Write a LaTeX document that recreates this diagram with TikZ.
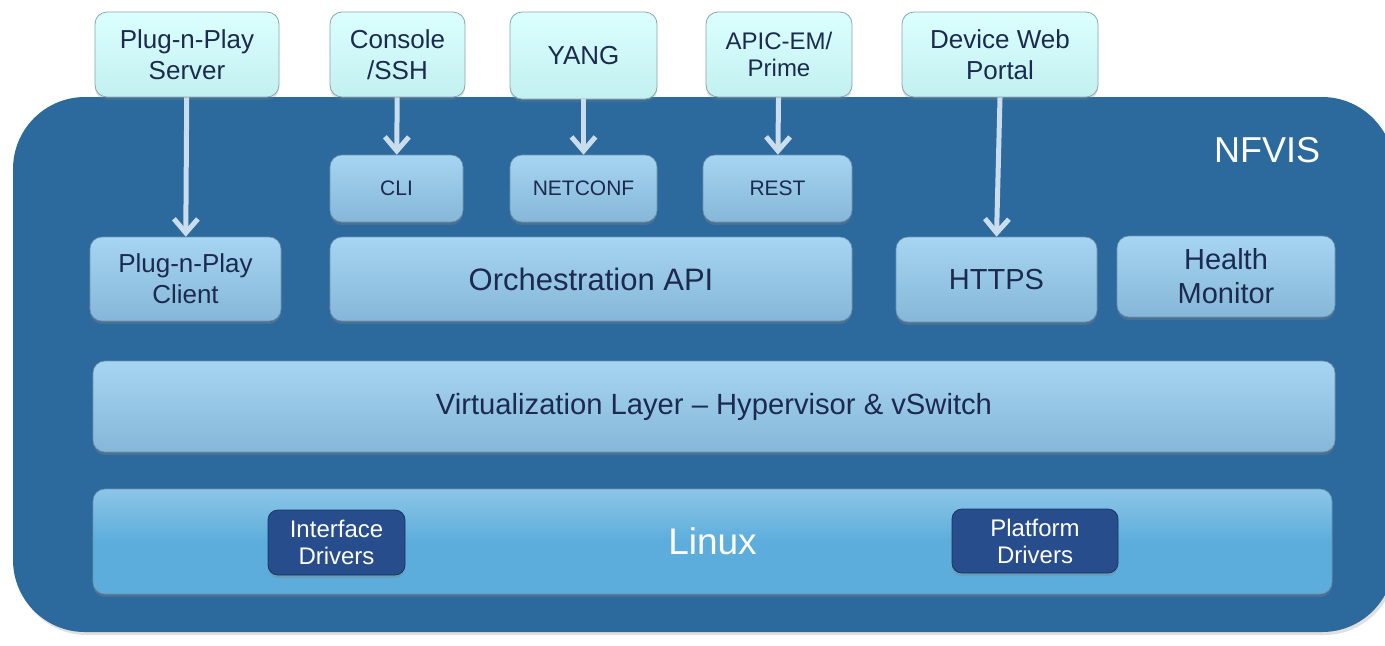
\documentclass[tikz,border=0pt]{standalone}
\usepackage{fontspec}
\setmainfont{Liberation Sans}
\usepackage{tikz}
\usetikzlibrary{arrows.meta,shadows}
\definecolor{ink}{HTML}{1B2A4E}
\definecolor{nfvisblue}{HTML}{2C6A9E}
\definecolor{cyantop}{HTML}{DCFFFF}
\definecolor{cyanbot}{HTML}{C2F0F0}
\definecolor{midtop}{HTML}{A6D5F2}
\definecolor{midbot}{HTML}{86B7D8}
\definecolor{linuxblue}{HTML}{5CADDC}
\definecolor{drvblue}{HTML}{274D8C}
\definecolor{arrowcol}{HTML}{C9DDEC}

\begin{document}
\begin{tikzpicture}[x=0.5pt, y=-0.5pt,
  toolbox/.style={draw=cyanbot!70!black, line width=0.4pt, rounded corners=6pt,
    top color=cyantop, bottom color=cyanbot, align=center, text=ink,
    inner sep=0pt, font=\fontsize{13}{15.5}\selectfont,
    drop shadow={shadow xshift=0pt, shadow yshift=-1.5pt, opacity=0.25}},
  layerbox/.style={draw=midbot!80!black, line width=0.3pt, rounded corners=6pt,
    top color=midtop, bottom color=midbot, align=center, text=ink,
    inner sep=0pt,
    drop shadow={shadow xshift=0pt, shadow yshift=-1.5pt, opacity=0.35}},
  drvbox/.style={draw=drvblue!70!black, line width=0.4pt, rounded corners=5pt,
    fill=drvblue, align=center, text=white, inner sep=0pt,
    font=\fontsize{12}{13.5}\selectfont,
    drop shadow={shadow xshift=0pt, shadow yshift=-1.5pt, opacity=0.35}},
  arr/.style={draw=arrowcol, line width=2.5pt,
    -{Straight Barb[length=7pt, width=12pt]}}]
\useasboundingbox (0,0) rectangle (1385,645);
\fill[black, opacity=0.12, rounded corners=36pt] (15,100) rectangle (1396,635);
\fill[nfvisblue, rounded corners=36pt] (13,97) rectangle (1394,632);
\node[text=white, font=\fontsize{18}{20}\selectfont] (nfvis) at (1267,150) {NFVIS};

\node[toolbox, minimum width=92pt, minimum height=42.5pt] (pnpsrv) at (187,54.5) {Plug-n-Play\\Server};
\node[toolbox, minimum width=67.5pt, minimum height=42.5pt] (console) at (397.5,54.5) {Console\\/SSH};
\node[toolbox, minimum width=73.5pt, minimum height=43.5pt] (yang) at (583.5,55.5) {YANG};
\node[toolbox, minimum width=73pt, minimum height=42.5pt,
  font=\fontsize{12}{13.5}\selectfont] (apic) at (779,54.5) {APIC-EM/\\Prime};
\node[toolbox, minimum width=98pt, minimum height=42.5pt] (portal) at (1000,54.5) {Device Web\\Portal};

\node[layerbox, minimum width=66.5pt, minimum height=33.5pt,
  font=\fontsize{10.5}{12}\selectfont] (cli) at (396.5,188.5) {CLI};
\node[layerbox, minimum width=73.5pt, minimum height=33.5pt,
  font=\fontsize{10.5}{12}\selectfont] (netconf) at (583.5,188.5) {NETCONF};
\node[layerbox, minimum width=74.5pt, minimum height=33.5pt,
  font=\fontsize{10.5}{12}\selectfont] (rest) at (777.5,188.5) {REST};

\node[layerbox, minimum width=95.5pt, minimum height=42pt,
  font=\fontsize{13}{15.5}\selectfont] (pnpcli) at (185.5,279) {Plug-n-Play\\Client};
\node[layerbox, minimum width=261pt, minimum height=42pt,
  font=\fontsize{15.5}{18}\selectfont] (orch) at (591,279) {Orchestration API};
\node[layerbox, minimum width=100.5pt, minimum height=42.5pt,
  font=\fontsize{14.5}{17}\selectfont] (https) at (996.5,279.5) {HTTPS};
\node[layerbox, minimum width=109pt, minimum height=40.5pt,
  font=\fontsize{14.5}{17}\selectfont] (health) at (1226,276.5) {Health\\Monitor};

\node[layerbox, minimum width=621pt, minimum height=45.5pt,
  font=\fontsize{14.6}{17}\selectfont] (virt) at (714,406.5) {Virtualization Layer -- Hypervisor \& vSwitch};
\node[layerbox, top color=linuxblue!70!white, bottom color=linuxblue, middle color=linuxblue,
  text=white, minimum width=619.5pt, minimum height=52.5pt,
  font=\fontsize{18.5}{21}\selectfont] (linux) at (712.5,541.5) {Linux};
\node[drvbox, minimum width=68.5pt, minimum height=32.5pt] (ifdrv) at (336.5,542.5) {Interface\\Drivers};
\node[drvbox, minimum width=83pt, minimum height=32pt] (platdrv) at (1035,541) {Platform\\Drivers};

\draw[arr] (pnpsrv) -- (pnpcli);
\draw[arr] (console) -- (cli);
\draw[arr] (yang) -- (netconf);
\draw[arr] (apic) -- (rest);
\draw[arr] (portal.south) -- (https.north);
\end{tikzpicture}
\end{document}
